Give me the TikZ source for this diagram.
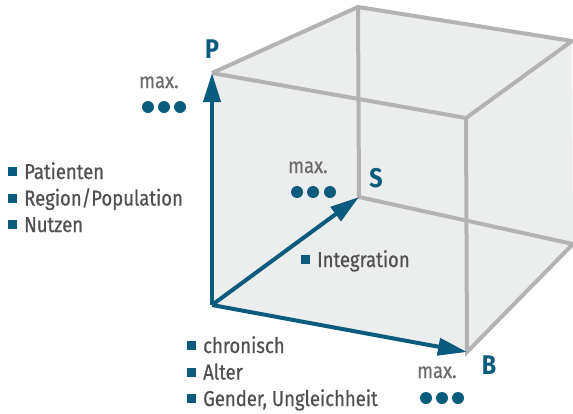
\documentclass[tikz,border=0pt]{standalone}
\usepackage{fontspec}
\setmainfont[FakeStretch=0.86, FakeBold=0.6, BoldFeatures={FakeBold=0}]{Fira Sans}
\usetikzlibrary{arrows.meta}
\definecolor{axisblue}{HTML}{0B5B7E}
\definecolor{edgegrey}{HTML}{B3B3B3}
\definecolor{cubefill}{HTML}{ECEDED}
\definecolor{textgrey}{HTML}{505050}
\definecolor{maxgrey}{HTML}{6A6A6A}
\newcommand{\sqbullet}{{\color{axisblue}\raisebox{3pt}{\rule{9pt}{9pt}}}\hspace{7pt}}
\begin{document}
\begin{tikzpicture}[x=1pt, y=-1pt,
  edge/.style={draw=edgegrey, line width=4pt, line join=miter},
  axis/.style={draw=axisblue, line width=4pt, -{Triangle[length=29pt, width=17pt]}},
  axislabel/.style={text=axisblue, font=\fontsize{27}{27}\selectfont\bfseries, inner sep=0pt},
  item/.style={text=textgrey, font=\fontsize{21.5}{24}\selectfont, anchor=base west, inner sep=0pt},
  maxlabel/.style={text=maxgrey, font=\fontsize{21.5}{24}\selectfont, anchor=base west, inner sep=0pt}]
\useasboundingbox (0,0) rectangle (573,413);
% cube corners
\coordinate (o) at (212,305);
\coordinate (p) at (212,73);
\coordinate (b) at (467,352);
\coordinate (s) at (359,197);
\coordinate (ftr) at (466,118);
\coordinate (btl) at (358,7);
\coordinate (btr) at (572,41);
\coordinate (bbr) at (573,244);
\fill[cubefill] (o) -- (p) -- (btl) -- (btr) -- (bbr) -- (b) -- cycle;
\draw[edge] (p) -- (btl) -- (btr) -- (ftr) -- (p);
\draw[edge] (ftr) -- (b) -- (bbr);
\draw[edge] (btl) -- (s) -- (bbr);
% axes
\draw[axis] (o) -- (p);
\draw[axis] (o) -- (s);
\draw[axis] (o) -- (b);
\node[axislabel] (lp) at (212,49) {P};
\node[axislabel] (ls) at (376,178) {S};
\node[axislabel] (lb) at (489,365) {B};
% maxima
\node[maxlabel] (mp) at (139,88) {max.};
\node[maxlabel] (ms) at (288,173) {max.};
\node[maxlabel] (mb) at (417,378) {max.};
\foreach \x in {148,164,180} \fill[axisblue] (\x,107) circle (6pt);
\foreach \x in {297,313,330} \fill[axisblue] (\x,192) circle (6pt);
\foreach \x in {426,442,458} \fill[axisblue] (\x,398) circle (6pt);
% lists
\node[item] (pat) at (8,179) {\sqbullet Patienten};
\node[item] (reg) at (8,205.5) {\sqbullet Region/Population};
\node[item] (nut) at (8,232) {\sqbullet Nutzen};
\node[item] (int) at (301,267) {\sqbullet Integration};
\node[item] (chr) at (187,353) {\sqbullet chronisch};
\node[item] (alt) at (187,379.5) {\sqbullet Alter};
\node[item] (gen) at (187,406) {\sqbullet Gender, Ungleichheit};
\end{tikzpicture}
\end{document}
